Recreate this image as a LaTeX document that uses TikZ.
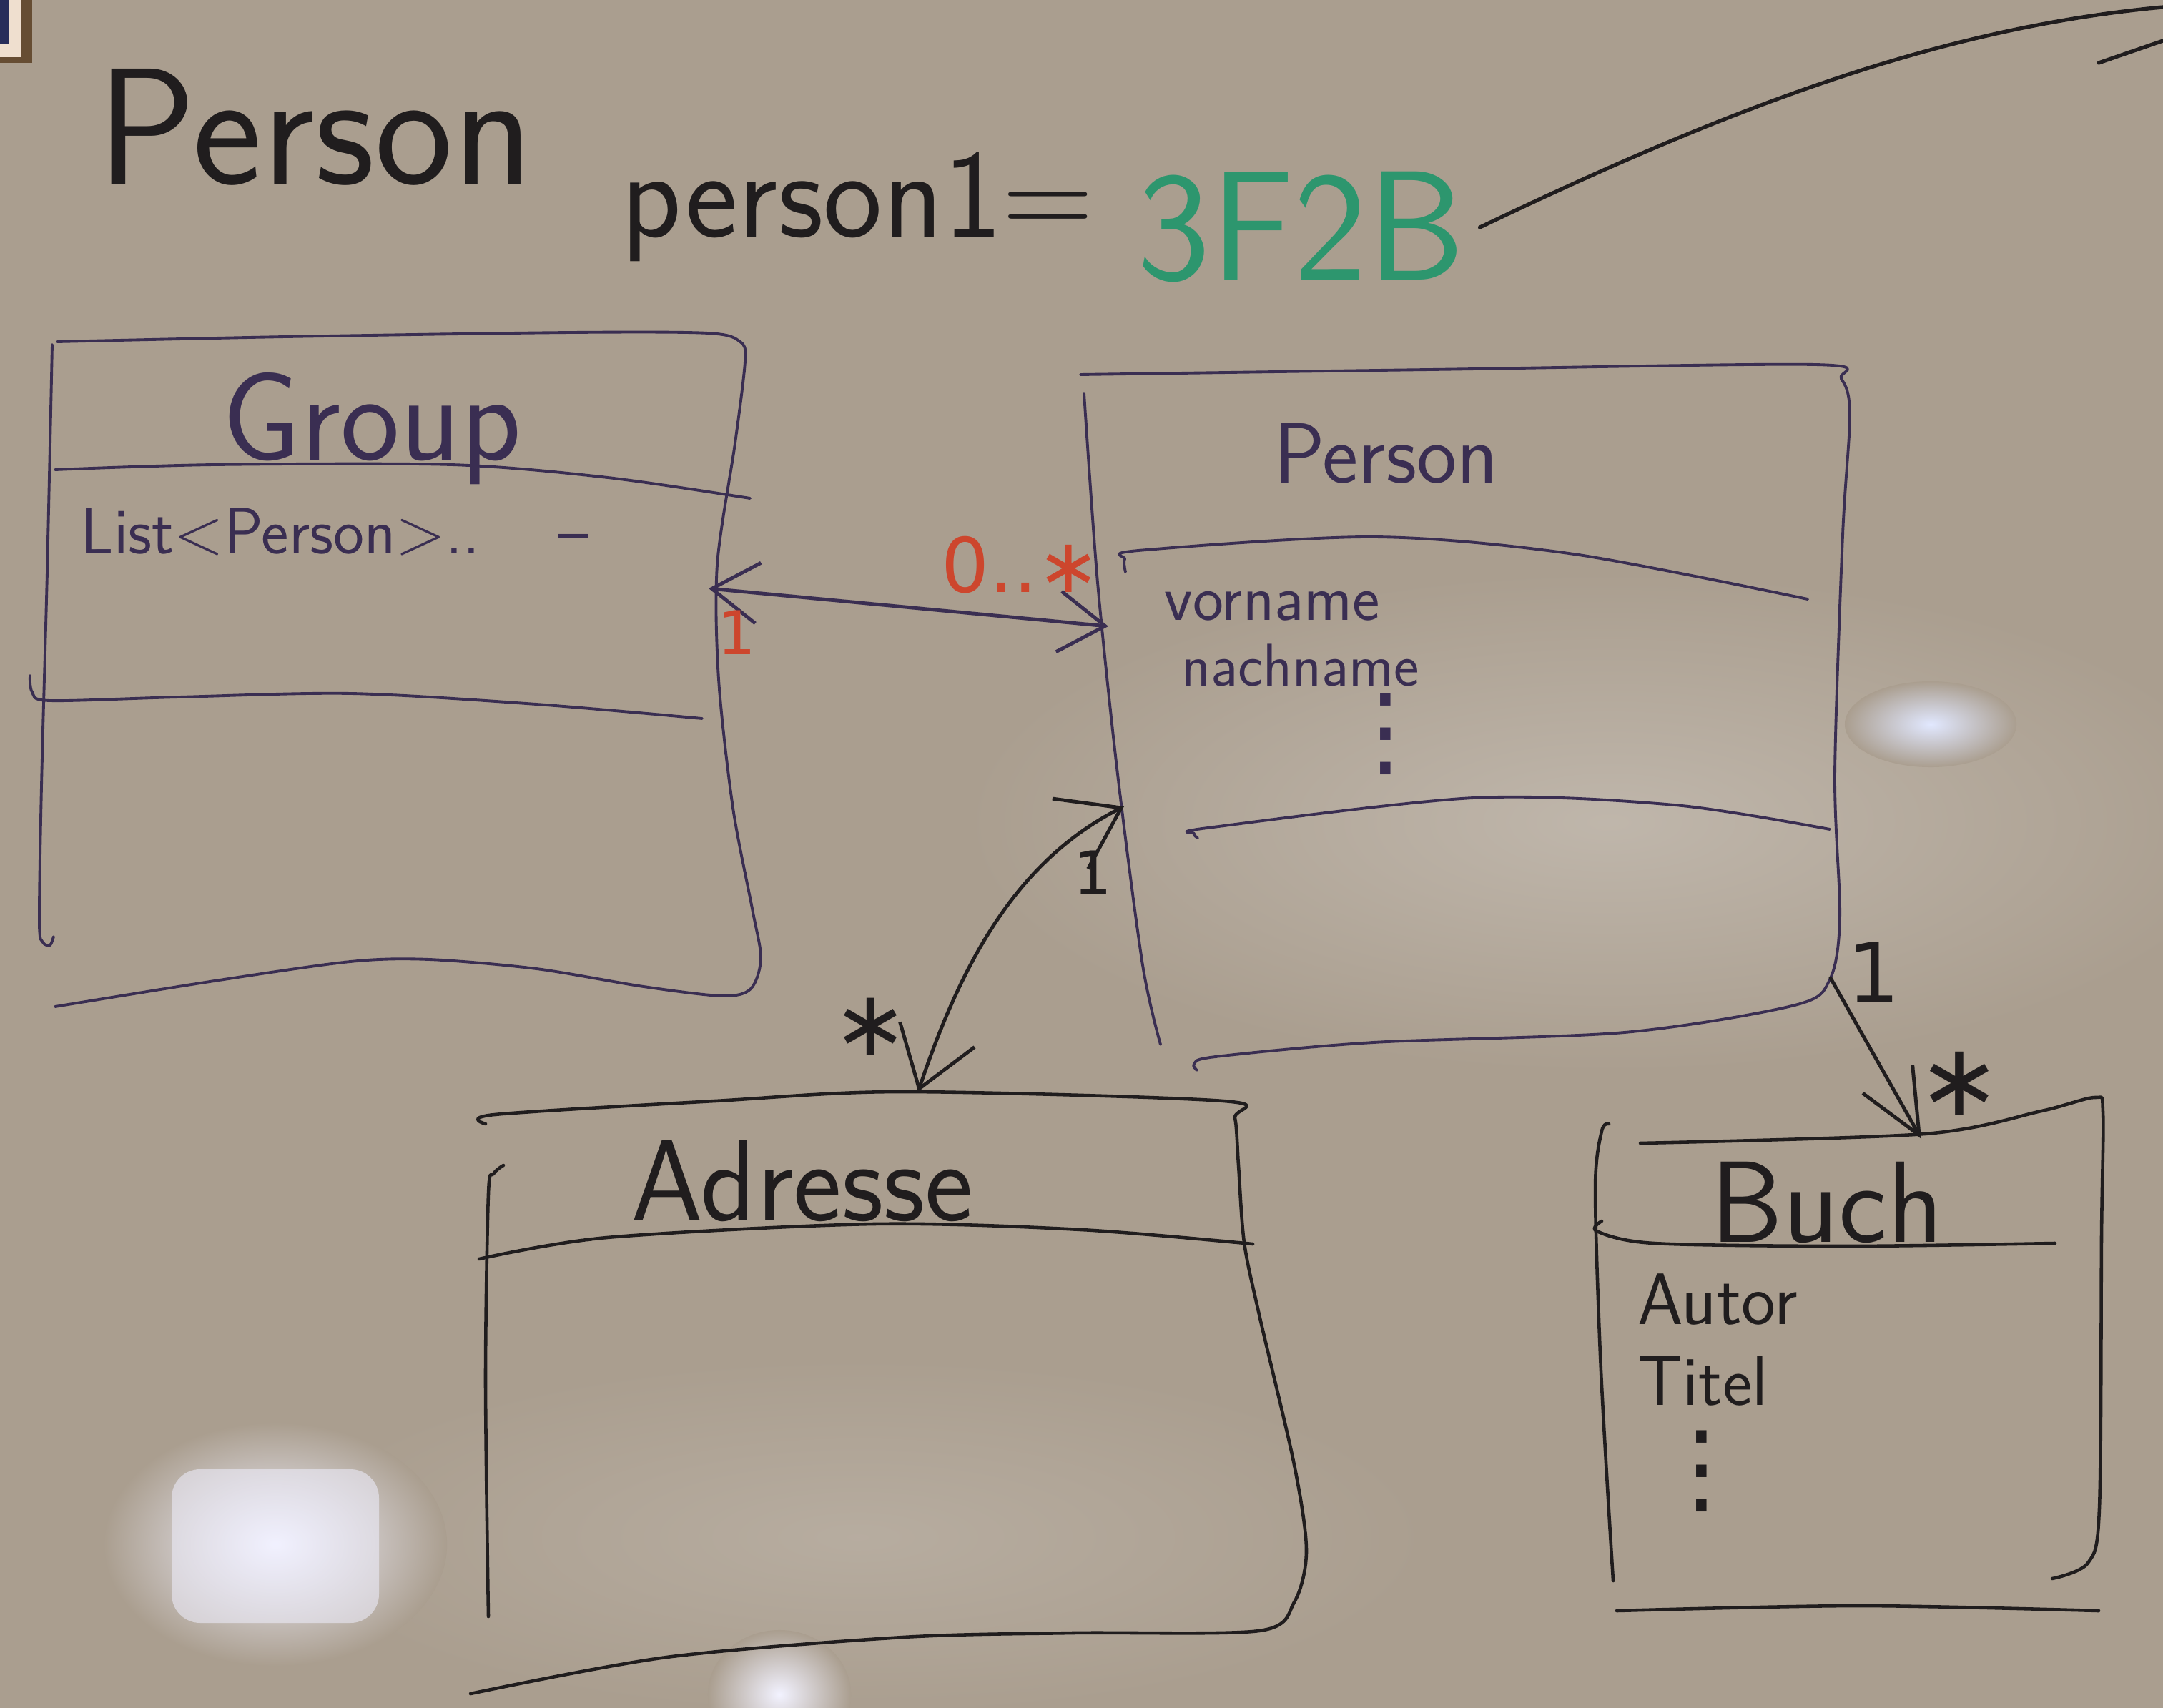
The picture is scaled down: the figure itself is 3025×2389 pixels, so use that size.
\documentclass[tikz,border=0pt]{standalone}
\usepackage{fontspec}
\newfontfamily\dejavu{DejaVu Sans}
\usetikzlibrary{arrows.meta}
\definecolor{board}{RGB}{170,158,143}
\definecolor{inkp}{RGB}{58,46,82}
\definecolor{inkb}{RGB}{32,29,30}
\definecolor{inkr}{RGB}{205,70,45}
\definecolor{inkg}{RGB}{45,150,110}
\definecolor{framebl}{RGB}{40,45,90}
\newcommand\hw[1]{\fontsize{#1}{#1}\selectfont}
\begin{document}
\begin{tikzpicture}[x=0.01cm,y=-0.01cm,
  pbox/.style={draw=inkp, line width=1.1pt, line cap=round, line join=round},
  bbox/.style={draw=inkb, line width=1.3pt, line cap=round, line join=round},
  lbl/.style={inner sep=0pt, font=\sffamily},
  mult/.style={inner sep=0pt, font=\dejavu},
  assocp/.style={draw=inkp, line width=1.4pt, line cap=round, >={Straight Barb[length=0.65cm,width=0.85cm]}, <->},
  assocb/.style={draw=inkb, line width=1.4pt, line cap=round, >={Straight Barb[length=0.8cm,width=1.1cm]}, <->},
  assocd/.style={draw=inkb, line width=1.4pt, line cap=round, -{Straight Barb[length=0.9cm,width=0.8cm]}}
]
\useasboundingbox (0,0) rectangle (3025,2389);
% board
\fill[board] (0,0) rectangle (3025,2389);
\shade[inner color=board!75!white, outer color=board] (2250,1150) ellipse [x radius=9cm, y radius=3.5cm];
\shade[inner color=board!85!white, outer color=board] (1200,2150) ellipse [x radius=8cm, y radius=2.5cm];
\shade[inner color={rgb,255:red,225;green,232;blue,255}, outer color=board] (2700,1013) ellipse [x radius=1.2cm, y radius=0.6cm];
\shade[inner color=white!95!blue, outer color=board] (385,2160) ellipse [x radius=2.4cm, y radius=1.7cm];
\fill[white!94!blue, opacity=0.55, rounded corners=0.4cm] (240,2055) rectangle (530,2270);
\shade[inner color=white!95!blue, outer color=board] (1090,2370) ellipse [x radius=1.0cm, y radius=0.9cm];
% picture frame corner
\fill[black!55!brown, opacity=0.8] (0,0) rectangle (45,88);
\fill[brown!25!white] (0,0) rectangle (30,80);
\fill[framebl] (0,0) rectangle (12,62);

% title
\node[lbl, text=inkb, anchor=base west] (title1) at (135,258) {\hw{66}Person};
\node[lbl, text=inkb, anchor=base west] (title2) at (868,332) {\hw{50}person1=};
\node[lbl, text=inkg, anchor=base west] (title3) at (1590,392) {\hw{62}3F2B};
\coordinate (offR) at (3025,10);
\draw[inkb, line width=1.5pt, line cap=round] ([xshift=0.2cm]title3.east) .. controls (2400,160) and (2700,40) .. (offR);
\draw[inkb, line width=1.5pt, line cap=round] (2935,88) -- (3025,57);

% Group box
\draw[pbox] plot[smooth, tension=0.5] coordinates {(80,478) (400,471) (800,465) (990,466) (1035,478) (1042,505) (1028,620) (1003,790) (1005,950) (1025,1130) (1052,1271) (1064,1340) (1050,1383) (1010,1393) (900,1380) (750,1355) (600,1342) (490,1345) (300,1372) (77,1408)};
\draw[pbox] plot[smooth, tension=0.5] coordinates {(73,482) (66,800) (58,1100) (55,1290) (60,1318) (70,1322) (75,1310)};
\draw[pbox] plot[smooth, tension=0.5] coordinates {(77,657) (300,650) (631,650) (850,668) (1049,697)};
\draw[pbox] plot[smooth, tension=0.5] coordinates {(42,945) (45,968) (70,980) (250,975) (491,970) (750,985) (982,1005)};
\node[lbl, text=inkp] (gname) at (520,600) {\hw{50}Group};
\node[lbl, text=inkp, anchor=base west] (gattr) at (112,775) {\hw{26}List<Person>..\hspace{1.1cm}–};

% Person box
\draw[pbox] plot[smooth, tension=0.5] coordinates {(1511,524) (2000,517) (2538,510) (2575,530) (2587,580) (2577,748) (2566,1083) (2573,1283) (2559,1370) (2510,1406) (2272,1444) (1921,1458) (1700,1478) (1670,1488) (1674,1497)};
\draw[pbox] plot[smooth, tension=0.5] coordinates {(1516,550) (1535,815) (1563,1083) (1598,1350) (1623,1461)};
\draw[pbox] plot[smooth, tension=0.5] coordinates {(1574,800) (1573,782) (1592,770) (1921,751) (2201,775) (2528,838)};
\draw[pbox] plot[smooth, tension=0.5] coordinates {(1675,1172) (1670,1166) (1689,1158) (2061,1116) (2342,1126) (2559,1160)};
\node[lbl, text=inkp] (pname) at (1938,634) {\hw{34}Person};
\node[lbl, text=inkp, anchor=base west] (pattr1) at (1628,868) {\hw{26}vorname};
\node[lbl, text=inkp, anchor=base west] (pattr2) at (1652,960) {\hw{24}nachname};
\node[mult, text=inkp] (pdots) at (1938,1027) {\hw{40}⋮};

% Adresse box
\draw[bbox] plot[smooth, tension=0.5] coordinates {(679,1572) (692,1559) (1000,1540) (1263,1527) (1711,1540) (1727,1564) (1732,1630) (1740,1738) (1761,1839) (1810,2049) (1827,2169) (1810,2241) (1761,2281) (1500,2284) (1263,2290) (932,2318) (658,2369)};
\draw[bbox] plot[smooth, tension=0.5] coordinates {(704,1630) (690,1642) (683,1670) (679,1929) (683,2261)};
\draw[bbox] plot[smooth, tension=0.5] coordinates {(670,1761) (849,1731) (1222,1712) (1512,1720) (1752,1740)};
\node[lbl, text=inkb] (aname) at (1122,1652) {\hw{46}Adresse};

% Buch box
\draw[bbox] plot[smooth, tension=0.5] coordinates {(2294,1599) (2692,1586) (2855,1554) (2930,1535) (2941,1556) (2939,1727) (2936,2109) (2920,2186) (2870,2208)};
\draw[bbox] plot[smooth, tension=0.5] coordinates {(2250,1572) (2240,1582) (2231,1663) (2239,1918) (2256,2211)};
\draw[bbox] plot[smooth, tension=0.5] coordinates {(2240,1708) (2233,1722) (2313,1739) (2584,1743) (2874,1739)};
\draw[bbox] plot[smooth, tension=0.5] coordinates {(2261,2253) (2600,2246) (2935,2253)};
\node[lbl, text=inkb] (bname) at (2555,1682) {\hw{46}Buch};
\node[lbl, text=inkb, anchor=base west] (battr1) at (2290,1852) {\hw{29}Autor};
\node[lbl, text=inkb, anchor=base west] (battr2) at (2290,1965) {\hw{28}Titel};
\node[mult, text=inkb] (bdots) at (2380,2058) {\hw{40}⋮};

% connectors
\coordinate (gR) at (991,823);
\coordinate (pL1) at (1550,876);
\draw[assocp] (gR) -- (pL1);
\node[mult, text=inkr] (m1) at (1030,885) {\hw{24}1};
\node[mult, text=inkr] (m2) at (1428,790) {\hw{30}0..∗};

\coordinate (pL2) at (1572,1128);
\coordinate (aT) at (1284,1527);
\draw[assocb] (aT) .. controls (1350,1330) and (1430,1200) .. (pL2);
\node[mult, text=inkb] (m3) at (1218,1436) {\hw{36}∗};
\node[mult, text=inkb] (m4) at (1528,1221) {\hw{24}1};

\coordinate (pBR) at (2560,1368);
\coordinate (bT) at (2687,1593);
\draw[assocd] (pBR) -- (bT);
\node[mult, text=inkb] (m5) at (2620,1360) {\hw{33}1};
\node[mult, text=inkb] (m6) at (2740,1515) {\hw{40}∗};
\end{tikzpicture}
\end{document}
